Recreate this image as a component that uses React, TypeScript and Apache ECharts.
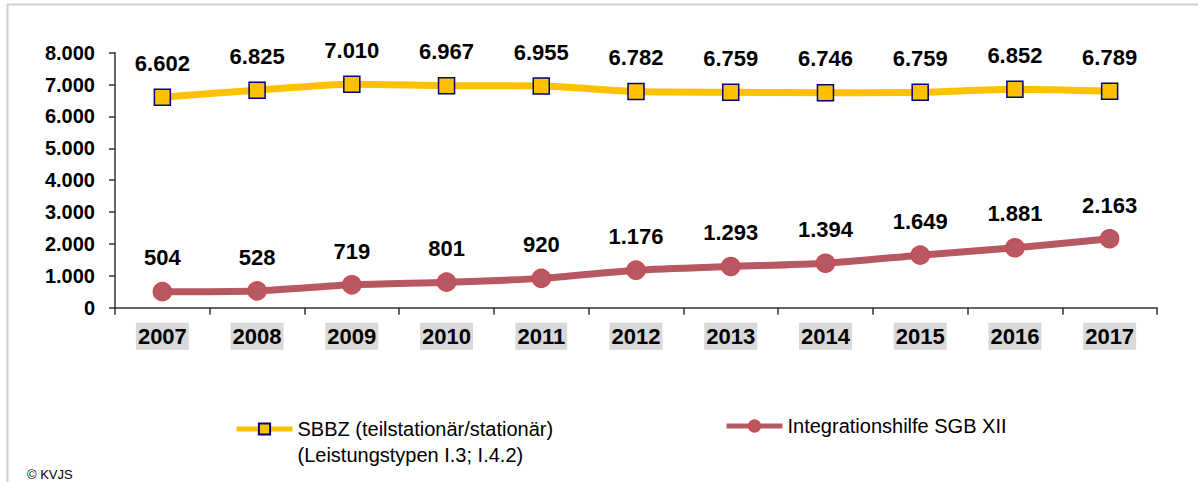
import React, { useEffect, useRef } from "react";
import * as echarts from "echarts";

const years = ["2007", "2008", "2009", "2010", "2011", "2012", "2013", "2014", "2015", "2016", "2017"];
const sbbzValues = [6602, 6825, 7010, 6967, 6955, 6782, 6759, 6746, 6759, 6852, 6789];
const integrationValues = [504, 528, 719, 801, 920, 1176, 1293, 1394, 1649, 1881, 2163];
const sbbzName = "SBBZ (teilstationär/stationär)\n(Leistungstypen I.3; I.4.2)";
const integrationName = "Integrationshilfe SGB XII";
const yTicks = { min: 0, max: 8000, interval: 1000 };
const footer = "© KVJS";

const FONT = "'Liberation Sans', Arial, sans-serif";

function fmt(n: number): string {
  const s = String(Math.round(n));
  return s.replace(/\B(?=(\d{3})+(?!\d))/g, ".");
}

export default function App() {
  const ref = useRef<HTMLDivElement>(null);
  useEffect(() => {
    document.body.style.margin = "0";
    const chart = echarts.init(ref.current!, null, { renderer: "svg" });
    chart.setOption({
      animation: false,
      backgroundColor: "#ffffff",
      textStyle: { fontFamily: FONT },
      grid: { left: 115, right: 41, top: 52.7, bottom: 174.3 },
      xAxis: {
        type: "category",
        data: years,
        boundaryGap: true,
        axisLine: { show: true, lineStyle: { color: "#333333", width: 1.5 } },
        axisTick: { show: true, length: 7, interval: 0, lineStyle: { color: "#333333", width: 1.5 } },
        axisLabel: {
          interval: 0,
          margin: 15,
          fontFamily: FONT,
          fontSize: 22,
          fontWeight: "bold",
          color: "#000000",
          backgroundColor: "#D9D9D9",
          padding: [3, 2, 2, 2],
        },
        splitLine: { show: false },
      },
      yAxis: {
        type: "value",
        min: yTicks.min,
        max: yTicks.max,
        interval: yTicks.interval,
        axisLine: { show: true, lineStyle: { color: "#333333", width: 1.5 } },
        axisTick: { show: true, length: 6, lineStyle: { color: "#333333", width: 1.5 } },
        axisLabel: {
          margin: 20,
          fontFamily: FONT,
          fontSize: 20,
          fontWeight: "bold",
          color: "#000000",
          formatter: (v: number) => fmt(v),
        },
        splitLine: { show: false },
      },
      legend: [
        {
          left: 234,
          top: 390,
          padding: 0,
          itemWidth: 56,
          itemHeight: 14,
          lineStyle: { width: 5 },
          data: [sbbzName],
          formatter: (name: string) => " \n" + name,
          textStyle: { fontFamily: FONT, fontSize: 20, lineHeight: 26, color: "#000000" },
        },
        {
          left: 724,
          top: 413,
          padding: 0,
          itemWidth: 56,
          itemHeight: 14,
          lineStyle: { width: 5 },
          data: [integrationName],
          textStyle: { fontFamily: FONT, fontSize: 20, lineHeight: 26, color: "#000000" },
        },
      ],
      graphic: [
        {
          type: "rect",
          shape: { x: 7.5, y: 4.5, width: 1300, height: 600 },
          style: { fill: "none", stroke: "#D0D0D0", lineWidth: 2 },
          silent: true,
          z: -1,
        },
        {
          type: "text",
          left: 27,
          top: 468,
          style: { text: footer, font: `13px ${FONT}`, fill: "#000000" },
        },
      ],
      series: [
        {
          name: sbbzName,
          type: "line",
          data: sbbzValues,
          smooth: 0.25,
          symbol: "rect",
          symbolSize: 16,
          lineStyle: { color: "#FFC000", width: 7 },
          itemStyle: { color: "#FFC000", borderColor: "#000080", borderWidth: 1.5 },
          label: {
            show: true,
            position: "top",
            distance: 14,
            fontFamily: FONT,
            fontSize: 22,
            fontWeight: "bold",
            color: "#000000",
            formatter: (p: any) => fmt(p.value),
          },
          z: 3,
        },
        {
          name: integrationName,
          type: "line",
          data: integrationValues,
          smooth: 0.25,
          symbol: "circle",
          symbolSize: 18,
          lineStyle: { color: "#B75862", width: 7 },
          itemStyle: { color: "#B75862", borderColor: "#CC4A52", borderWidth: 1.5 },
          label: {
            show: true,
            position: "top",
            distance: 13,
            fontFamily: FONT,
            fontSize: 22,
            fontWeight: "bold",
            color: "#000000",
            formatter: (p: any) => fmt(p.value),
          },
          z: 3,
        },
      ],
    });
    return () => chart.dispose();
  }, []);
  return (
    <div
      ref={ref}
      style={{ position: "absolute", left: 0, top: 0, width: 1198, height: 482 }}
    />
  );
}
